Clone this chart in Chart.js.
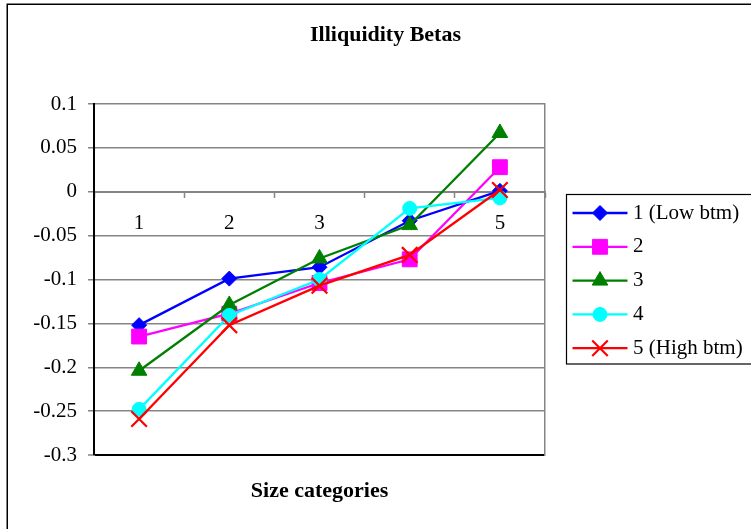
<!DOCTYPE html>
<html>
<head>
<meta charset="utf-8">
<script src="https://cdn.jsdelivr.net/npm/chart.js@4/dist/chart.umd.min.js"></script>
<style>
  html, body { margin: 0; padding: 0; background: #fff; overflow: hidden; }
  #wrap { position: relative; width: 751px; height: 529px; }
</style>
</head>
<body>
<div id="wrap"><canvas id="c" width="751" height="529"></canvas></div>
<script>
// Size categories along the x axis
const categories = ['1', '2', '3', '4', '5'];
// Book-to-market groups
const seriesNames = ['1 (Low btm)', '2', '3', '4', '5 (High btm)'];
// Illiquidity betas per size category
const lowBtm  = [-0.152, -0.099, -0.086, -0.033, 0.001];
const btm2    = [-0.165, -0.139, -0.104, -0.077, 0.028];
const btm3    = [-0.204, -0.129, -0.076, -0.038, 0.067];
const btm4    = [-0.248, -0.141, -0.100, -0.019, -0.007];
const highBtm = [-0.259, -0.152, -0.107, -0.072, 0.002];
// Value axis ticks
const yTickValues = [0.1, 0.05, 0, -0.05, -0.1, -0.15, -0.2, -0.25, -0.3];
const yTickLabels = ['0.1', '0.05', '0', '-0.05', '-0.1', '-0.15', '-0.2', '-0.25', '-0.3'];

const SERIF = '"Liberation Serif", "Times New Roman", serif';
const GRID = '#858585';

const styles = [
  { color: '#0000FF', pointStyle: 'rectRot', radius: 7.5, borderWidth: 1 },
  { color: '#FF00FF', pointStyle: 'rect', radius: 10.5, borderWidth: 1 },
  { color: '#008000', pointStyle: 'triangle', radius: 9, borderWidth: 1 },
  { color: '#00FFFF', pointStyle: 'circle', radius: 7, borderWidth: 1 },
  { color: '#FF0000', pointStyle: 'crossRot', radius: 11, borderWidth: 2.2 }
];
const seriesValues = [lowBtm, btm2, btm3, btm4, highBtm];

const datasets = seriesValues.map((vals, i) => ({
  label: seriesNames[i],
  data: vals,
  borderColor: styles[i].color,
  backgroundColor: styles[i].color,
  borderWidth: 2.3,
  tension: 0,
  pointStyle: styles[i].pointStyle,
  pointRadius: styles[i].radius,
  pointHoverRadius: styles[i].radius,
  pointBorderWidth: styles[i].borderWidth,
  pointBackgroundColor: styles[i].color,
  pointBorderColor: styles[i].color,
  order: seriesValues.length - i,
  clip: false
}));

// Outer chart frame
const chartFrame = {
  id: 'chartFrame',
  beforeDraw(chart) {
    const ctx = chart.ctx;
    ctx.save();
    ctx.fillStyle = '#fff';
    ctx.fillRect(0, 0, chart.width, chart.height);
    ctx.strokeStyle = '#000';
    ctx.lineWidth = 1.5;
    ctx.beginPath();
    ctx.moveTo(7.25, chart.height + 5);
    ctx.lineTo(7.25, 4.25);
    ctx.lineTo(chart.width + 5, 4.25);
    ctx.stroke();
    ctx.restore();
  }
};

// Legend with line + marker samples, built from the datasets
const sideLegend = {
  id: 'sideLegend',
  afterDraw(chart) {
    const ctx = chart.ctx;
    const area = chart.chartArea;
    const left = area.right + 21.5;
    const top = 194.5;
    const rowStart = 213, rowStep = 33.8;
    ctx.save();
    ctx.strokeStyle = '#000';
    ctx.lineWidth = 1.2;
    ctx.strokeRect(left, top, 250, 169.5);
    chart.data.datasets.forEach((ds, i) => {
      const y = rowStart + i * rowStep;
      ctx.strokeStyle = ds.borderColor;
      ctx.lineWidth = ds.borderWidth;
      ctx.beginPath();
      ctx.moveTo(left + 6, y);
      ctx.lineTo(left + 61, y);
      ctx.stroke();
      ctx.fillStyle = ds.pointBackgroundColor;
      ctx.strokeStyle = ds.pointBorderColor;
      ctx.lineWidth = ds.pointBorderWidth;
      Chart.helpers.drawPoint(ctx, {
        pointStyle: ds.pointStyle, radius: ds.pointRadius, rotation: 0, borderWidth: ds.pointBorderWidth
      }, left + 33.5, y);
      ctx.fillStyle = '#000';
      ctx.font = '21px ' + SERIF;
      ctx.textBaseline = 'middle';
      ctx.textAlign = 'left';
      ctx.fillText(ds.label, left + 66.5, y);
    });
    ctx.restore();
  }
};

new Chart(document.getElementById('c'), {
  type: 'line',
  data: { labels: categories, datasets },
  plugins: [chartFrame, sideLegend],
  options: {
    responsive: false,
    animation: false,
    events: [],
    layout: { padding: { left: 20, right: 0, top: 0, bottom: 0 } },
    plugins: {
      legend: { display: false },
      tooltip: { enabled: false },
      title: {
        display: true,
        text: 'Illiquidity Betas',
        color: '#000',
        font: { family: SERIF, size: 22, weight: 'bold', lineHeight: 1.2 },
        padding: { top: 21.8, bottom: 55.8 }
      },
      subtitle: {
        display: true,
        position: 'bottom',
        fullSize: false,
        text: 'Size categories',
        color: '#000',
        font: { family: SERIF, size: 22, weight: 'bold', lineHeight: 1.2 },
        padding: { top: 22.8, bottom: 24.8 }
      }
    },
    scales: {
      x: {
        type: 'category',
        position: { y: 0 },
        offset: true,
        grid: {
          offset: true,
          drawOnChartArea: false,
          drawTicks: true,
          tickLength: 5,
          tickColor: GRID,
          tickWidth: 1.5
        },
        border: { display: true, color: GRID, width: 2 },
        ticks: {
          color: '#000',
          font: { family: SERIF, size: 21 },
          padding: 14,
          maxRotation: 0,
          autoSkip: false
        }
      },
      y: {
        type: 'linear',
        position: 'left',
        min: -0.3,
        max: 0.1,
        afterFit(scale) { scale.width = 74; },
        afterBuildTicks(scale) { scale.ticks = yTickValues.map(v => ({ value: v })); },
        grid: {
          color: (c) => (c.tick && c.tick.value === -0.3 ? '#000' : GRID),
          lineWidth: (c) => (c.tick && c.tick.value === -0.3 ? 2 : 1.5),
          drawTicks: true,
          tickLength: 6,
          tickColor: GRID,
          tickWidth: 1.5
        },
        border: { display: true, color: '#000', width: 2 },
        ticks: {
          color: '#000',
          font: { family: SERIF, size: 21 },
          padding: 11,
          callback: (v) => {
            const k = yTickValues.findIndex(t => Math.abs(t - v) < 1e-9);
            return k >= 0 ? yTickLabels[k] : '';
          }
        }
      },
      frameRight: {
        type: 'linear',
        position: 'right',
        display: true,
        afterFit(scale) { scale.width = 206; },
        grid: { drawOnChartArea: false, drawTicks: false },
        border: { display: true, color: GRID, width: 1.5 },
        ticks: { display: false }
      }
    }
  }
});
</script>
</body>
</html>
